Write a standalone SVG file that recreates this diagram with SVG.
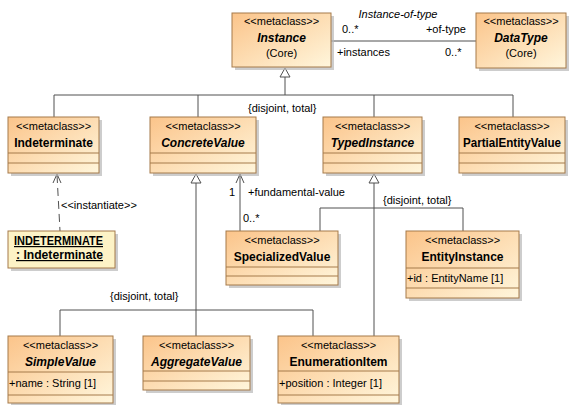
<svg xmlns="http://www.w3.org/2000/svg" width="569" height="405" viewBox="0 0 569 405">
<defs>
<linearGradient id="g" x1="0" y1="0" x2="1" y2="1">
<stop offset="0" stop-color="#fbc48a"/>
<stop offset="1" stop-color="#fff6dc"/>
</linearGradient>
<style>
.b{fill:url(#g);stroke:#a57a4a;stroke-width:1}
.sh{fill:#b8b8b8;opacity:0.7}
.sep{stroke:#a57a4a;stroke-width:1}
.st{font-family:"Liberation Sans",Arial,sans-serif;font-size:11px;fill:#000;text-anchor:middle}
.nm{font-family:"Liberation Sans",Arial,sans-serif;font-size:12px;font-weight:bold;fill:#000;text-anchor:middle}
.it{font-style:italic}
.at{font-family:"Liberation Sans",Arial,sans-serif;font-size:11px;fill:#000}
.lb{font-family:"Liberation Sans",Arial,sans-serif;font-size:11px;fill:#000}
.ln{stroke:#505050;stroke-width:1;fill:none}
.tri{fill:#fff;stroke:#505050;stroke-width:1}
</style>
</defs>
<rect width="569" height="405" fill="#fff"/>

<g id="connectors">
<path class="ln" d="M331 41 H476"/>
<text class="lb it" x="398" y="18" text-anchor="middle">Instance-of-type</text>
<text class="lb" x="342" y="33">0..*</text>
<text class="lb" x="466" y="33" text-anchor="end">+of-type</text>
<text class="lb" x="337" y="56">+instances</text>
<text class="lb" x="445" y="56">0..*</text>

<path class="ln" d="M285 77 V95"/>
<path class="tri" d="M285 68 L290 77 L280 77 Z"/>
<path class="ln" d="M54 95 H513 M54 95 V117 M198 95 V117 M374 95 V117 M513 95 V117"/>
<text class="lb" x="248" y="112">{disjoint, total}</text>

<path class="ln" d="M57 175 L60 231" stroke-dasharray="8,5"/>
<path class="ln" d="M53 183 L57 174 L61 183"/>
<text class="lb" x="61" y="209">&lt;&lt;instantiate&gt;&gt;</text>

<path class="ln" d="M240 174 V231"/>
<path class="ln" d="M236 183 L240 174 L244 183"/>
<text class="lb" x="229" y="196">1</text>
<text class="lb" x="248" y="196">+fundamental-value</text>
<text class="lb" x="243" y="222">0..*</text>

<path class="ln" d="M374 183 V336"/>
<path class="tri" d="M374 174 L379 183 L369 183 Z"/>
<path class="ln" d="M320 208 H463 M320 208 V231 M463 208 V231"/>
<text class="lb" x="383" y="204">{disjoint, total}</text>

<path class="ln" d="M196 183 V310"/>
<path class="tri" d="M196 174 L201 183 L191 183 Z"/>
<path class="ln" d="M60 310 H313 M60 310 V336 M196 310 V336 M313 310 V336"/>
<text class="lb" x="110" y="300">{disjoint, total}</text>
</g>

<g id="Instance">
<rect class="sh" x="235" y="16" width="99" height="54"/>
<rect class="b" x="232" y="13" width="99" height="54"/>
<text class="st" x="281.5" y="25">&lt;&lt;metaclass&gt;&gt;</text>
<text class="nm it" x="281.5" y="42">Instance</text>
<text class="st" x="281.5" y="57" font-size="11.5">(Core)</text>
</g>

<g id="DataType">
<rect class="sh" x="479" y="16" width="90" height="55"/>
<rect class="b" x="476" y="13" width="90" height="55"/>
<text class="st" x="521" y="25">&lt;&lt;metaclass&gt;&gt;</text>
<text class="nm it" x="521" y="42">DataType</text>
<text class="st" x="521" y="57" font-size="11.5">(Core)</text>
</g>

<g id="Indeterminate">
<rect class="sh" x="11" y="120" width="91" height="56"/>
<rect class="b" x="8" y="117" width="91" height="56"/>
<path class="sep" d="M8 153 H99 M8 163 H99"/>
<text class="st" x="53.5" y="130">&lt;&lt;metaclass&gt;&gt;</text>
<text class="nm" x="53.5" y="147">Indeterminate</text>
</g>

<g id="ConcreteValue">
<rect class="sh" x="153" y="120" width="106" height="56"/>
<rect class="b" x="150" y="117" width="106" height="56"/>
<path class="sep" d="M150 153 H256 M150 163 H256"/>
<text class="st" x="203" y="130">&lt;&lt;metaclass&gt;&gt;</text>
<text class="nm it" x="203" y="147">ConcreteValue</text>
</g>

<g id="TypedInstance">
<rect class="sh" x="326" y="120" width="99" height="56"/>
<rect class="b" x="323" y="117" width="99" height="56"/>
<path class="sep" d="M323 153 H422 M323 163 H422"/>
<text class="st" x="372.5" y="130">&lt;&lt;metaclass&gt;&gt;</text>
<text class="nm it" x="372.5" y="147">TypedInstance</text>
</g>

<g id="PartialEntityValue">
<rect class="sh" x="462" y="120" width="106" height="56"/>
<rect class="b" x="459" y="117" width="106" height="56"/>
<path class="sep" d="M459 153 H565 M459 163 H565"/>
<text class="st" x="512" y="130">&lt;&lt;metaclass&gt;&gt;</text>
<text class="nm" x="512" y="147" textLength="98" lengthAdjust="spacingAndGlyphs">PartialEntityValue</text>
</g>

<g id="INDETERMINATE">
<rect class="sh" x="11" y="234" width="107" height="37"/>
<rect x="8" y="231" width="107" height="37" fill="#fdf3c6" stroke="#a57a4a"/>
<text class="nm" x="58.5" y="245" text-decoration="underline" textLength="89" lengthAdjust="spacingAndGlyphs">INDETERMINATE</text>
<text class="nm" x="59.5" y="259" text-decoration="underline" textLength="87" lengthAdjust="spacingAndGlyphs">: Indeterminate</text>
</g>

<g id="SpecializedValue">
<rect class="sh" x="229" y="234" width="112" height="54"/>
<rect class="b" x="226" y="231" width="112" height="54"/>
<path class="sep" d="M226 267 H338 M226 276 H338"/>
<text class="st" x="282" y="244">&lt;&lt;metaclass&gt;&gt;</text>
<text class="nm" x="282" y="261">SpecializedValue</text>
</g>

<g id="EntityInstance">
<rect class="sh" x="409" y="234" width="113" height="67"/>
<rect class="b" x="406" y="231" width="113" height="67"/>
<path class="sep" d="M406 268 H519 M406 288 H519"/>
<text class="st" x="462.5" y="244">&lt;&lt;metaclass&gt;&gt;</text>
<text class="nm" x="462.5" y="261">EntityInstance</text>
<text class="at" x="407" y="282">+id : EntityName [1]</text>
</g>

<g id="SimpleValue">
<rect class="sh" x="11" y="339" width="105" height="67"/>
<rect class="b" x="8" y="336" width="105" height="67"/>
<path class="sep" d="M8 372 H113 M8 395 H113"/>
<text class="st" x="60.5" y="349">&lt;&lt;metaclass&gt;&gt;</text>
<text class="nm it" x="60.5" y="366">SimpleValue</text>
<text class="at" x="9" y="387">+name : String [1]</text>
</g>

<g id="AggregateValue">
<rect class="sh" x="146" y="339" width="107" height="54"/>
<rect class="b" x="143" y="336" width="107" height="54"/>
<path class="sep" d="M143 371 H250 M143 381 H250"/>
<text class="st" x="196.5" y="349">&lt;&lt;metaclass&gt;&gt;</text>
<text class="nm it" x="196.5" y="366">AggregateValue</text>
</g>

<g id="EnumerationItem">
<rect class="sh" x="281" y="339" width="121" height="67"/>
<rect class="b" x="278" y="336" width="121" height="67"/>
<path class="sep" d="M278 371 H399 M278 395 H399"/>
<text class="st" x="338.5" y="349">&lt;&lt;metaclass&gt;&gt;</text>
<text class="nm" x="338.5" y="366">EnumerationItem</text>
<text class="at" x="279" y="387">+position : Integer [1]</text>
</g>
</svg>
